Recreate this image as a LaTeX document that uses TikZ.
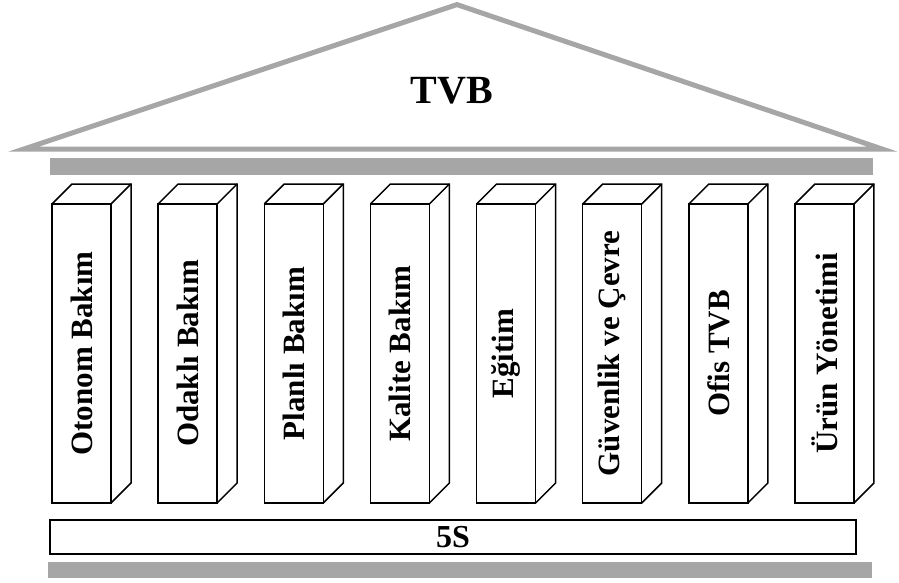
\documentclass[tikz,border=0pt]{standalone}
\usepackage{fontspec}
\setmainfont{Liberation Serif}
\definecolor{roofgray}{HTML}{A6A6A6}
\begin{document}
\begin{tikzpicture}[x=1pt,y=-1pt,
  roofline/.style={draw=roofgray, line width=5pt, line join=miter},
  beam/.style={fill=roofgray, draw=none},
  face/.style={draw, line width=1.5pt, fill=white, minimum width=59pt,
    minimum height=299pt, inner sep=0pt, outer sep=0pt, anchor=north west},
  edge/.style={draw, line width=1.5pt},
  lbl/.style={rotate=90, inner sep=0pt, font=\bfseries\fontsize{31}{31}\selectfont},
  title/.style={font=\bfseries\fontsize{40}{40}\selectfont, inner sep=0pt},
  basebox/.style={draw, line width=1.5pt, minimum width=806pt, minimum height=34pt,
    inner sep=0pt, font=\bfseries\fontsize{32}{32}\selectfont}]
\useasboundingbox (0,0) rectangle (899,583);

% roof
\coordinate (rl) at (24,149);
\coordinate (ra) at (457,4.6);
\coordinate (rr) at (882,149);
\draw[roofline] (rl) -- (ra) -- (rr) -- cycle;
\node[title] (tvb) at (452,91) {TVB};

% architrave and ground beams
\path[beam] (50,158) rectangle (873,175);
\path[beam] (48,562) rectangle (872,578);

% pillars
\foreach \i/\t in {1/Otonom Bakım, 2/Odaklı Bakım, 3/Planlı Bakım, 4/Kalite Bakım,
                   5/Eğitim, 6/Güvenlik ve Çevre, 7/Ofis TVB, 8/Ürün Yönetimi} {
  \pgfmathsetmacro\xx{52+106.14*(\i-1)}
  \node[face] (p\i) at (\xx,204) {};
  \draw[edge] (p\i.north west) -- ++(20,-20) -- ++(59,0) -- ++(0,299) -- (p\i.south east);
  \draw[edge] (p\i.north east) -- ++(20,-20);
  \node[lbl] (t\i) at (p\i.center) {\t};
}

% foundation
\node[basebox] (s5) at (453,537) {5S};
\end{tikzpicture}
\end{document}
